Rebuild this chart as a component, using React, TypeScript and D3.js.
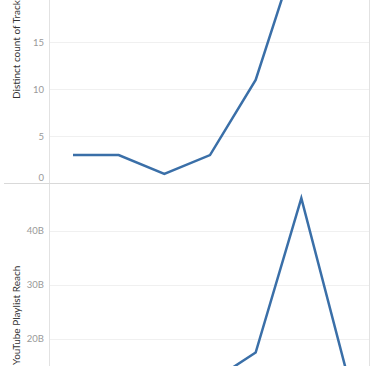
import React from "react";
import * as d3 from "d3";

const categories = ["2017", "2018", "2019", "2020", "2021", "2022", "2023"];
const trackCounts = [3, 3, 1, 3, 11, 26, 22];
const playlistReach = [4.5e9, 4e9, 1.5e9, 12e9, 17.5e9, 46e9, 13.6e9];
const topTicks = [0, 5, 10, 15];
const bottomTicks = [20e9, 30e9, 40e9];

const W = 375;
const H = 366;
const axisX = 50;
const rightX = 369;
const divY = 184;
const FONT = "Lato, 'Open Sans', sans-serif";

export default function App() {
  const x = d3.scalePoint<string>().domain(categories).range([73, 347]);
  const yTop = d3.scaleLinear().domain([0, 20]).range([183.3, -4.7]);
  const yBot = d3.scaleLinear().domain([0, 50e9]).range([447.3, 176.55]);

  const lineTop = d3
    .line<number>()
    .x((_, i) => x(categories[i]) as number)
    .y((d) => yTop(d));
  const lineBot = d3
    .line<number>()
    .x((_, i) => x(categories[i]) as number)
    .y((d) => yBot(d));

  const fmtB = (v: number) => `${Math.round(v / 1e9)}B`;

  return (
    <svg
      width={W}
      height={H}
      style={{ position: "fixed", left: 0, top: 0, background: "#fff" }}
      fontFamily={FONT}
    >
      <defs>
        <clipPath id="clipTop">
          <rect x={axisX} y={-50} width={rightX - axisX} height={divY + 50} />
        </clipPath>
        <clipPath id="clipBot">
          <rect x={axisX} y={divY} width={rightX - axisX} height={H} />
        </clipPath>
      </defs>

      {/* gridlines top */}
      {topTicks
        .filter((t) => t > 0)
        .map((t) => (
          <line
            key={"gt" + t}
            x1={axisX}
            x2={rightX}
            y1={Math.round(yTop(t)) + 0.5}
            y2={Math.round(yTop(t)) + 0.5}
            stroke="#f0f0f0"
            strokeWidth={1}
          />
        ))}
      {/* gridlines bottom */}
      {bottomTicks.map((t) => (
        <line
          key={"gb" + t}
          x1={axisX}
          x2={rightX}
          y1={Math.round(yBot(t)) + 0.5}
          y2={Math.round(yBot(t)) + 0.5}
          stroke="#f0f0f0"
          strokeWidth={1}
        />
      ))}

      {/* borders */}
      <line x1={axisX - 0.5} x2={axisX - 0.5} y1={0} y2={H} stroke="#e2e2e2" />
      <line x1={rightX + 0.5} x2={rightX + 0.5} y1={0} y2={H} stroke="#e2e2e2" />
      <line x1={4} x2={rightX} y1={divY - 0.5} y2={divY - 0.5} stroke="#d9d9d9" />

      {/* tick labels top */}
      {topTicks.map((t) => (
        <text
          key={"lt" + t}
          x={44}
          y={t === 0 ? 177.3 : yTop(t)}
          dy="0.35em"
          textAnchor="end"
          fontSize={9.5}
          fill="#999"
        >
          {t}
        </text>
      ))}
      {/* tick labels bottom */}
      {bottomTicks.map((t) => (
        <text
          key={"lb" + t}
          x={44}
          y={yBot(t)}
          dy="0.35em"
          textAnchor="end"
          fontSize={9.5}
          fill="#999"
        >
          {fmtB(t)}
        </text>
      ))}

      {/* axis titles */}
      <text
        transform="translate(19.5,99) rotate(-90)"
        textAnchor="start"
        fontSize={10}
        fill="#333"
      >
        Distinct count of Track
      </text>
      <text
        transform="translate(19.5,365) rotate(-90)"
        textAnchor="start"
        fontSize={10}
        fill="#333"
      >
        YouTube Playlist Reach
      </text>

      {/* lines */}
      <g clipPath="url(#clipTop)">
        <path
          d={lineTop(trackCounts) || ""}
          fill="none"
          stroke="#3a6fa8"
          strokeWidth={2.5}
          strokeLinejoin="miter"
        />
      </g>
      <g clipPath="url(#clipBot)">
        <path
          d={lineBot(playlistReach) || ""}
          fill="none"
          stroke="#3a6fa8"
          strokeWidth={2.5}
          strokeLinejoin="miter"
        />
      </g>
    </svg>
  );
}
